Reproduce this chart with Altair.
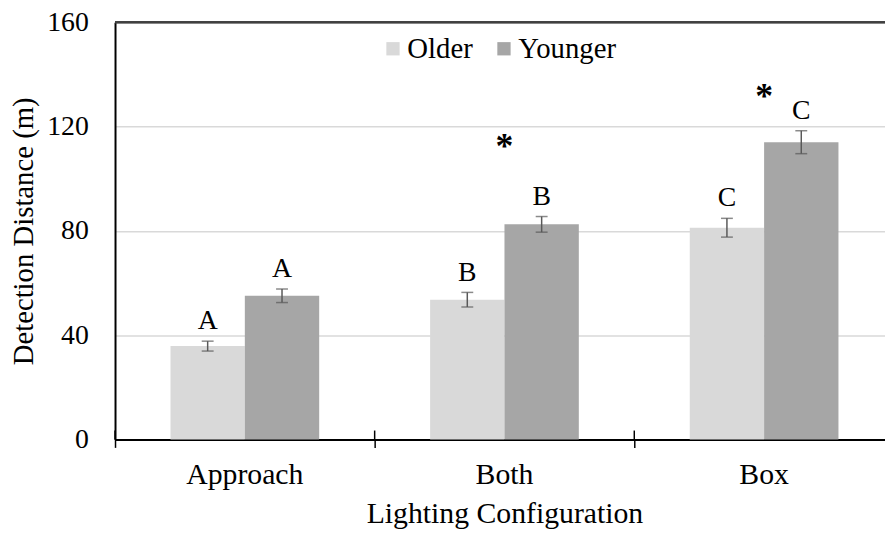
import altair as alt
import pandas as pd

configs = ["Approach", "Both", "Box"]
groups = ["Older", "Younger"]
older_mean = [35.8, 53.6, 81.2]
older_err = [1.9, 2.8, 3.6]
younger_mean = [55.1, 82.5, 114.0]
younger_err = [2.6, 3.0, 4.4]
older_letters = ["A", "B", "C"]
younger_letters = ["A", "B", "C"]
star_configs = ["Both", "Box"]
star_values = [112.2, 131.2]

rows = []
for i, c in enumerate(configs):
    rows.append(dict(config=c, group="Older", mean=older_mean[i],
                     lo=older_mean[i] - older_err[i], hi=older_mean[i] + older_err[i],
                     letter=older_letters[i]))
    rows.append(dict(config=c, group="Younger", mean=younger_mean[i],
                     lo=younger_mean[i] - younger_err[i], hi=younger_mean[i] + younger_err[i],
                     letter=younger_letters[i]))
df = pd.DataFrame(rows)
stars = pd.DataFrame(dict(config=star_configs, value=star_values, txt=["*"] * len(star_configs)))
cats = pd.DataFrame(dict(config=configs))

FONT = "Liberation Serif"
FS = 28
PLOT_H = 421

xscale = alt.Scale(domain=configs, range=[0, 786], paddingInner=0, paddingOuter=0)
yscale = alt.Scale(domain=[0, 160])
offscale = alt.Scale(domain=groups, paddingInner=0, paddingOuter=0.746)

x_enc = alt.X("config:N", scale=xscale, sort=configs,
              axis=alt.Axis(title="Lighting Configuration", labelAngle=0, bandPosition=0,
                            domainColor="black", domainWidth=2, tickColor="black", tickWidth=1.5,
                            tickSize=8, labelPadding=12, labelFont=FONT, labelFontSize=30,
                            labelColor="black", titleFont=FONT, titleFontSize=30,
                            titleFontWeight="normal", titleColor="black", titlePadding=10,
                            grid=False))
y_enc = alt.Y("mean:Q", scale=yscale,
              axis=alt.Axis(title="Detection Distance (m)", values=[0, 40, 80, 120, 160],
                            ticks=False, domainColor="black", domainWidth=2,
                            gridColor="#d9d9d9", gridWidth=1.5, labelPadding=27,
                            labelFont=FONT, labelFontSize=FS, labelColor="black",
                            titleFont=FONT, titleFontSize=29, titleFontWeight="normal",
                            titleColor="black", titleX=-83, titleBaseline="alphabetic"))

bars = alt.Chart(df).mark_bar().encode(
    x=x_enc,
    xOffset=alt.XOffset("group:N", scale=offscale, sort=groups),
    y=y_enc,
    color=alt.Color("group:N", sort=groups,
                    scale=alt.Scale(domain=groups, range=["#d9d9d9", "#a6a6a6"]),
                    legend=alt.Legend(title=None, orient="none", direction="horizontal",
                                      legendX=266, legendY=12, symbolType="square",
                                      symbolSize=180, symbolStrokeWidth=0,
                                      labelFont=FONT, labelFontSize=29, labelColor="black",
                                      labelOffset=0, columnPadding=16)),
)

rules = alt.Chart(df).mark_rule(color="#595959", strokeWidth=1.5).encode(
    x=alt.X("config:N", scale=xscale, sort=configs),
    xOffset=alt.XOffset("group:N", scale=offscale, sort=groups),
    y=alt.Y("lo:Q", scale=yscale),
    y2="hi:Q",
)
cap_hi = alt.Chart(df).mark_tick(color="#595959", size=12, thickness=1.5, orient="horizontal").encode(
    x=alt.X("config:N", scale=xscale, sort=configs),
    xOffset=alt.XOffset("group:N", scale=offscale, sort=groups),
    y=alt.Y("hi:Q", scale=yscale),
)
cap_lo = alt.Chart(df).mark_tick(color="#595959", size=12, thickness=1.5, orient="horizontal").encode(
    x=alt.X("config:N", scale=xscale, sort=configs),
    xOffset=alt.XOffset("group:N", scale=offscale, sort=groups),
    y=alt.Y("lo:Q", scale=yscale),
)
letters = alt.Chart(df).mark_text(font=FONT, fontSize=FS, color="black", dy=-12,
                                  baseline="alphabetic").encode(
    x=alt.X("config:N", scale=xscale, sort=configs),
    xOffset=alt.XOffset("group:N", scale=offscale, sort=groups),
    y=alt.Y("hi:Q", scale=yscale),
    text="letter:N",
)
star_marks = alt.Chart(stars).mark_text(font=FONT, fontSize=36, fontWeight="bold",
                                        color="black", baseline="middle").encode(
    x=alt.X("config:N", scale=xscale, sort=configs),
    y=alt.Y("value:Q", scale=yscale),
    text="txt:N",
)
top_line = alt.Chart(cats).mark_rule(color="#404040", strokeWidth=2).encode(
    y=alt.datum(160, scale=yscale),
)
cross_ticks = alt.Chart(cats).mark_rule(color="black", strokeWidth=1.5).encode(
    x=alt.X("config:N", scale=xscale, sort=configs, bandPosition=0),
    y=alt.value(PLOT_H - 9),
    y2=alt.value(PLOT_H),
)

chart = alt.layer(bars, rules, cap_hi, cap_lo, letters, star_marks, top_line, cross_ticks).properties(
    width=777, height=PLOT_H,
    autosize=alt.AutoSizeParams(type="none"),
    padding={"left": 108, "top": 12, "right": 0, "bottom": 92},
).configure_view(stroke=None).configure(background="white", font=FONT
).configure_legend(labelFont=FONT)

chart.save("out.html", embed_options={"renderer": "svg", "actions": False})
